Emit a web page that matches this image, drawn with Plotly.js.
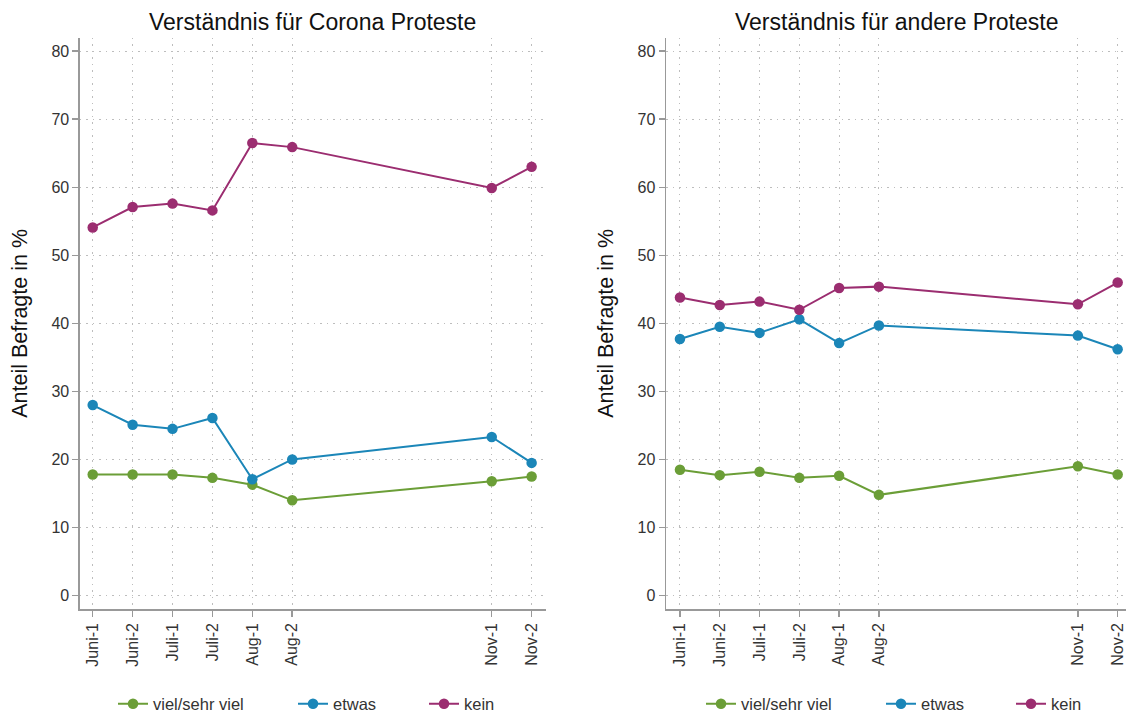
<!DOCTYPE html>
<html>
<head>
<meta charset="utf-8">
<script src="https://cdn.plot.ly/plotly-3.0.1.min.js"></script>
<style>
html,body{margin:0;padding:0;background:#fff;}
#chart{width:1126px;height:722px;}
</style>
</head>
<body>
<div id="chart"></div>
<script>
// Survey waves (half-month periods) and their position in half-months since Juni-1
const waves = ["Juni-1","Juni-2","Juli-1","Juli-2","Aug-1","Aug-2","Nov-1","Nov-2"];
const halfMonth = [0, 1, 2, 3, 4, 5, 10, 11];

const seriesNames = ["viel/sehr viel", "etwas", "kein"];
const seriesColors = ["#6b9e37", "#1b86b8", "#9b2d70"];

// Verständnis für Corona Proteste
const coronaViel  = [17.8, 17.8, 17.8, 17.3, 16.3, 14.0, 16.8, 17.5];
const coronaEtwas = [28.0, 25.1, 24.5, 26.1, 17.1, 20.0, 23.3, 19.5];
const coronaKein  = [54.1, 57.1, 57.6, 56.6, 66.5, 65.9, 59.9, 63.0];

// Verständnis für andere Proteste
const andereViel  = [18.5, 17.7, 18.2, 17.3, 17.6, 14.8, 19.0, 17.8];
const andereEtwas = [37.7, 39.5, 38.6, 40.6, 37.1, 39.7, 38.2, 36.2];
const andereKein  = [43.8, 42.7, 43.2, 42.0, 45.2, 45.4, 42.8, 46.0];

const yTicks = [0, 10, 20, 30, 40, 50, 60, 70, 80];

const panels = [
  {title: "Verständnis für Corona Proteste", data: [coronaViel, coronaEtwas, coronaKein], xa: "x", ya: "y",
   legendX: [113, 293, 424]},
  {title: "Verständnis für andere Proteste", data: [andereViel, andereEtwas, andereKein], xa: "x2", ya: "y2",
   legendX: [701, 881, 1011]}
];

const FONT = "Liberation Sans, Arial, sans-serif";
const W = 1126, H = 722;
const traces = [];
const legends = {};
let li = 0;
panels.forEach(p => {
  p.data.forEach((vals, i) => {
    li++;
    const key = li === 1 ? "legend" : "legend" + li;
    legends[key] = {
      orientation: "h", x: p.legendX[i] / W, xanchor: "left", y: 1 - 712 / H, yanchor: "middle",
      font: {family: FONT, size: 16.5, color: "#333"}, bgcolor: "rgba(0,0,0,0)", borderwidth: 0
    };
    traces.push({
      type: "scatter", mode: "lines+markers",
      x: halfMonth, y: vals, name: seriesNames[i],
      xaxis: p.xa, yaxis: p.ya, legend: key, showlegend: true,
      line: {color: seriesColors[i], width: 2},
      marker: {color: seriesColors[i], size: 10.5},
      hovertemplate: "%{y:.1f}%<extra>" + seriesNames[i] + "</extra>"
    });
  });
});

function xAxis(domain, range, anchor) {
  return {
    domain: domain, range: range, anchor: anchor,
    tickmode: "array", tickvals: halfMonth, ticktext: waves, tickangle: -90,
    ticks: "outside", ticklen: 6, tickcolor: "#999", tickwidth: 1.5,
    showline: true, linecolor: "#999", linewidth: 1.5,
    showgrid: true, gridcolor: "#bdbdbd", griddash: "1.5px,5px", gridwidth: 1,
    zeroline: false,
    tickfont: {family: FONT, size: 16, color: "#333"}
  };
}
function yAxis(domain, anchor) {
  return {
    domain: domain, range: [-2, 82], anchor: anchor,
    tickmode: "array", tickvals: yTicks,
    ticks: "outside", ticklen: 6, tickcolor: "#999", tickwidth: 1.5,
    showline: true, linecolor: "#999", linewidth: 1.5,
    showgrid: true, gridcolor: "#bdbdbd", griddash: "1.5px,5px", gridwidth: 1,
    zeroline: false,
    tickfont: {family: FONT, size: 16, color: "#333"},
    title: {text: "Anteil Befragte in %", font: {family: FONT, size: 21.5, color: "#111"}, standoff: 18},
    automargin: false
  };
}

const yDom = [0.1468, 0.9474];
const layout = Object.assign({
  width: W, height: H,
  showlegend: true,
  paper_bgcolor: "#fff", plot_bgcolor: "#fff",
  margin: {l: 0, r: 0, t: 0, b: 0},
  font: {family: FONT, color: "#333"},
  xaxis: xAxis([0.0710, 0.4849], [-0.32, 11.36], "y"),
  yaxis: yAxis(yDom, "x"),
  xaxis2: xAxis([0.5915, 1.0], [-0.35, 11.21], "y2"),
  yaxis2: yAxis(yDom, "x2"),
  annotations: panels.map(p => ({
    text: p.title, xref: p.xa + " domain", yref: "paper", x: 0.5, y: 1 - 22 / H,
    xanchor: "center", yanchor: "middle", showarrow: false,
    font: {family: FONT, size: 23, color: "#111"}
  }))
}, legends);

Plotly.newPlot("chart", traces, layout, {displayModeBar: false, staticPlot: true});
</script>
</body>
</html>
